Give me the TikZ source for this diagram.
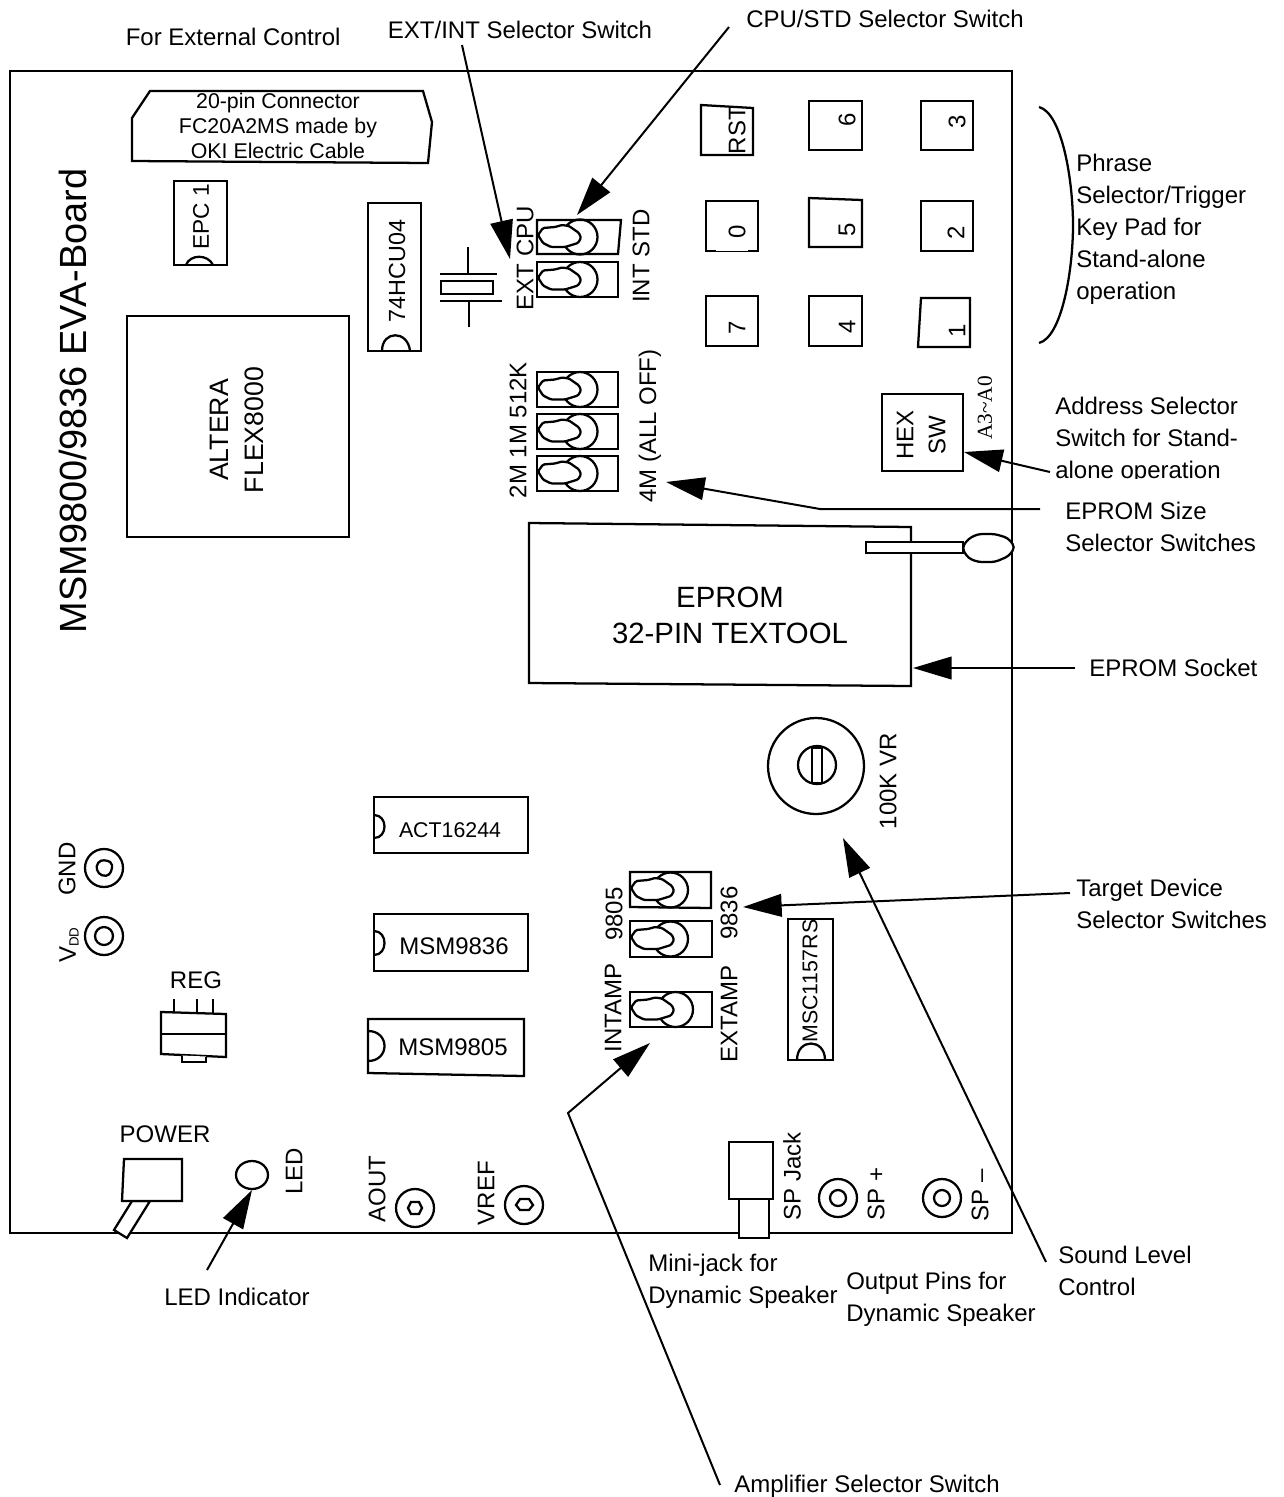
\documentclass[tikz,border=0pt]{standalone}
\usepackage{fontspec}
\setmainfont{Liberation Sans}
\newfontfamily\serifA{Liberation Serif}
\usetikzlibrary{arrows.meta}
\tikzset{
  part/.style={draw=black,line width=1.7pt,line join=miter,fill=white},
  outline/.style={draw=black,line width=1.7pt,line join=miter},
  leader/.style={draw=black,line width=1.5pt,line join=miter,-{Triangle[length=29pt,width=17pt]}},
  txt/.style={inner sep=0pt,align=left,font=\fontsize{18}{24}\selectfont},
  smalltxt/.style={txt,align=center,font=\fontsize{16}{18}\selectfont},
  rtxt/.style={txt,rotate=90,anchor=center},
  rsmall/.style={smalltxt,rotate=90,anchor=center},
  pics/lever/.style={code={
    \draw[outline] (#1,0) circle[radius=17.5];
    \draw[part,rounded corners=1pt] (1,-2)--(6,-9)--(18,-10)--(25,-12)--(32,-11)--(42,-4)--(44,1)--(41,6)--(28,10)--(14,10)--(6,6)--cycle;
  }},
}
\begin{document}
\begin{tikzpicture}[x=0.75pt,y=-0.75pt]
\useasboundingbox (0,0) rectangle (1284,1497);
% board
\draw[outline] (10,71) rectangle (1012,1233);
\node[rotate=90,inner sep=0pt,font=\fontsize{28.4}{32}\selectfont] (boardtitle) at (73,401) {MSM9800/9836 EVA-Board};
% 20-pin connector
\draw[part] (132,118)--(150,91)--(423,91)--(432,122)--(428,163)--(132,161)--cycle;
\node[smalltxt] (conn) at (278,126) {20-pin Connector\\[0.9pt]FC20A2MS made by\\[0.9pt]OKI Electric Cable};
% EPC 1
\draw[part] (174,181) rectangle (227,265);
\draw[outline] (186,265) .. controls (190,254) and (208,254) .. (213,265);
\node[rsmall,font=\fontsize{17}{18}\selectfont] (epc) at (201,217) {EPC 1};
% 74HCU04
\draw[part] (368,203) rectangle (421,351);
\draw[outline] (382,351) .. controls (382,330) and (408,330) .. (410,351);
\node[rsmall,font=\fontsize{17.5}{18}\selectfont] (hcu) at (397,271) {74HCU04};
% crystal
\draw[outline] (468,247)--(468,274) (440,274)--(497,274);
\draw[part] (441,281) rectangle (493,294);
\draw[outline] (440,301)--(502,301) (469,301)--(469,327);
% altera
\draw[part] (127,316) rectangle (349,537);
\node[rotate=90,inner sep=0pt,align=center,font=\fontsize{20}{26.5}\selectfont] (altera) at (237,430) {ALTERA\\FLEX8000};
% CPU and address switches
\draw[part] (537,220)--(621,220)--(618,254)--(537,254)--cycle;
\pic (swa) at (537,237) {lever=43};
\draw[part] (537,262) rectangle (618,297);
\pic (swb) at (537,279.5) {lever=43};
\draw[part] (537,372) rectangle (618,407);
\pic (swc) at (537,389.5) {lever=43};
\draw[part] (537,414) rectangle (618,449);
\pic (swd) at (537,431.5) {lever=43};
\draw[part] (537,456) rectangle (618,491);
\pic (swe) at (537,473.5) {lever=43};
\node[rtxt] (extcpu) at (525,258) {EXT CPU};
\node[rtxt] (intstd) at (641,256) {INT STD};
\node[rtxt] (mem) at (518,430) {2M 1M 512K};
\node[rtxt] (alloff) at (650,426) {4M (ALL OFF)};
% keypad
\draw[part] (701,105)--(753,108)--(753,155)--(701,155)--cycle;
\node[rtxt] (krst) at (737,130) {RST};
\draw[part] (809,101) rectangle (862,150);
\node[rtxt] (k6) at (847,120) {6};
\draw[part] (921,101) rectangle (973,150);
\node[rtxt] (k3) at (957,122) {3};
\draw[part] (716,251)--(706,251)--(706,201)--(758,201)--(758,251)--(748,251);
\draw[black,line width=0.7pt] (716,251)--(748,251);
\node[rtxt] (k0) at (737,232) {0};
\draw[part] (809,198)--(862,200)--(862,247)--(809,247)--cycle;
\node[rtxt] (k5) at (847,230) {5};
\draw[part] (921,201) rectangle (973,251);
\node[rtxt] (k2) at (956,233) {2};
\draw[part] (706,296) rectangle (758,346);
\node[rtxt] (k7) at (737,328) {7};
\draw[part] (809,296) rectangle (862,346);
\node[rtxt] (k4) at (847,327) {4};
\draw[part] (921,298)--(970,298)--(970,347)--(918,347)--cycle;
\node[rtxt] (k1) at (957,331) {1};
% brace
\draw[outline] (1039,107) .. controls (1062,113) and (1073,180) .. (1073,225) .. controls (1073,270) and (1062,337) .. (1039,343);
\node[txt,anchor=west] (phrase) at (1076,229) {Phrase\\Selector/Trigger\\Key Pad for\\Stand-alone\\operation};
% hex switch
\draw[part] (882,394) rectangle (963,471);
\node[rtxt] (hex) at (905,435) {HEX};
\node[rtxt] (sw) at (937,435) {SW};
\node[rotate=90,inner sep=0pt,font=\fontsize{16}{18}\selectfont\serifA] (a3) at (985,408) {A3\textasciitilde A0};
% EPROM socket
\draw[part] (529,523)--(911,527)--(911,686)--(529,683)--cycle;
\node[inner sep=0pt,align=center,font=\fontsize{22}{27}\selectfont] (eprom) at (730,615) {EPROM\\32-PIN TEXTOOL};
\draw[part] (866,542) rectangle (963,553);
\draw[part,rounded corners=3pt] (962,548)--(968,539)--(978,534)--(995,534)--(1008,538)--(1015,547)--(1009,556)--(995,562)--(978,562)--(968,558)--cycle;
% VR
\draw[outline] (816,766) circle[radius=48];
\draw[outline] (817,765) circle[radius=19];
\draw[part] (812,748) rectangle (822,783);
\node[rtxt] (vr) at (888,781) {100K VR};
% ICs
\draw[part] (374,797) rectangle (528,853);
\draw[outline] (374,815) .. controls (388,815) and (388,838) .. (374,838);
\node[txt,anchor=center,font=\fontsize{16}{20}\selectfont] (act) at (450,830) {ACT16244};
\draw[part] (374,914) rectangle (528,971);
\draw[outline] (374,931) .. controls (388,931) and (388,955) .. (374,955);
\node[txt,anchor=center] (m36) at (454,946) {MSM9836};
\draw[part] (368,1019)--(524,1019)--(524,1076)--(368,1073)--cycle;
\draw[outline] (368,1031) .. controls (390,1031) and (390,1061) .. (368,1061);
\node[txt,anchor=center] (m05) at (453,1047) {MSM9805};
\draw[part] (788,919) rectangle (833,1060);
\draw[outline] (797,1060) .. controls (797,1038) and (825,1038) .. (825,1060);
\node[rsmall] (msc) at (810,981) {MSC1157RS};
% device switches
\draw[part] (630,872)--(711,872)--(711,908)--(630,907)--cycle;
\pic (swf) at (630,890) {lever=40.5};
\draw[part] (630,921) rectangle (712,957);
\pic (swg) at (630,939) {lever=40.5};
\draw[part] (630,992) rectangle (712,1027);
\pic (swh) at (630,1009.5) {lever=45.5};
\node[rtxt] (n05) at (614,914) {9805};
\node[rtxt] (n36) at (729,913) {9836};
\node[rtxt] (intamp) at (613,1008) {INTAMP};
\node[rtxt] (extamp) at (729,1014) {EXTAMP};
% GND VDD
\draw[outline] (104,868) circle[radius=19];
\draw[outline,rounded corners=1.5pt] (96,868)--(99,861)--(106,860)--(112,863)--(112,870)--(108,876)--(100,875)--cycle;
\node[rtxt] (gnd) at (67,869) {GND};
\draw[outline] (104,936) circle[radius=19];
\draw[outline] (104,936) circle[radius=9];
\node[rtxt] (vdd) at (69,945) {V{\fontsize{10}{10}\selectfont\raisebox{-2pt}{DD}}};
% REG
\node[txt,anchor=center] (reg) at (196,980) {REG};
\draw[outline] (174,999)--(174,1012) (197,999)--(197,1015) (213,999)--(213,1014);
\draw[part] (161,1012)--(226,1014)--(226,1057)--(161,1054)--cycle;
\draw[outline] (161,1034)--(226,1034);
\draw[part] (182,1055.5)--(182,1062)--(206,1062)--(206,1056.5);
% power
\node[txt,anchor=center] (power) at (165,1134) {POWER};
\draw[part] (132,1201)--(114,1230)--(127,1238)--(150,1201)--cycle;
\draw[part] (124,1159)--(182,1159)--(182,1201)--(122,1201)--cycle;
\draw[outline] (252,1175) ellipse[x radius=16,y radius=14];
\node[rtxt] (led) at (294,1171) {LED};
% AOUT VREF
\node[rtxt] (aout) at (377,1189) {AOUT};
\draw[outline] (415,1208) circle[radius=19];
\draw[outline] (408,1208)--(411,1202)--(419,1202)--(422,1208)--(419,1214)--(411,1214)--cycle;
\node[rtxt] (vref) at (486,1193) {VREF};
\draw[outline] (524,1205) circle[radius=19];
\draw[outline] (516,1205)--(520,1199)--(529,1199)--(533,1205)--(529,1210)--(520,1210)--cycle;
% SP
\draw[part] (739,1199) rectangle (769,1238);
\draw[part] (729,1142) rectangle (773,1199);
\node[rtxt] (spj) at (792,1176) {SP Jack};
\draw[outline] (838,1198) circle[radius=19];
\draw[outline] (838,1198) circle[radius=8];
\node[rtxt] (spp) at (876,1194) {SP +};
\draw[outline] (942,1198) circle[radius=19];
\draw[outline] (942,1198) circle[radius=8];
\node[rtxt] (spm) at (980,1195) {SP --};
% outside labels
\node[txt,anchor=west] (forext) at (125.5,37) {For External Control};
\node[txt,anchor=center] (extint) at (520,30) {EXT/INT Selector Switch};
\node[txt,anchor=west] (cpustd) at (746,19) {CPU/STD Selector Switch};
\node[txt,anchor=west] (addr) at (1055,440) {Address Selector\\Switch for Stand-\\alone operation};
\fill[white] (1045,478.5) rectangle (1270,492);
\node[txt,anchor=west] (esize) at (1065,527) {EPROM Size\\Selector Switches};
\node[txt,anchor=west] (esock) at (1089,668) {EPROM Socket};
\node[txt,anchor=west] (target) at (1076,904) {Target Device\\Selector Switches};
\node[txt,anchor=west] (sound) at (1058,1271) {Sound Level\\Control};
\node[txt,anchor=west] (output) at (846,1299) {Output Pins for\\Dynamic Speaker};
\node[txt,anchor=west] (minij) at (648,1281) {Mini-jack for\\Dynamic Speaker};
\node[txt,anchor=center] (ledind) at (237,1297) {LED Indicator};
\node[txt,anchor=west] (ampsel) at (734,1486) {Amplifier Selector Switch};
% leader ends
\coordinate (a1s) at (462,45);   \coordinate (a1t) at (510,259);
\coordinate (a2s) at (729,27);   \coordinate (a2t) at (577,215);
\coordinate (a3s) at (1050,472); \coordinate (a3t) at (964,452);
\coordinate (a4s) at (1040,509); \coordinate (a4b) at (820,509); \coordinate (a4t) at (666,482);
\coordinate (a5s) at (1075,668); \coordinate (a5t) at (913,668);
\coordinate (a6s) at (1070,893); \coordinate (a6t) at (743,907);
\coordinate (a7s) at (1046,1262);\coordinate (a7t) at (843,838);
\coordinate (a8s) at (720,1485); \coordinate (a8b) at (568,1113); \coordinate (a8t) at (650,1043);
\coordinate (a9s) at (207,1270); \coordinate (a9t) at (252,1190);
\draw[leader] (a1s)--(a1t);
\draw[leader] (a2s)--(a2t);
\draw[leader] (a3s)--(a3t);
\draw[leader] (a4s)--(a4b)--(a4t);
\draw[leader] (a5s)--(a5t);
\draw[leader] (a6s)--(a6t);
\draw[leader] (a7s)--(a7t);
\draw[leader] (a8s)--(a8b)--(a8t);
\draw[leader] (a9s)--(a9t);
\end{tikzpicture}
\end{document}
